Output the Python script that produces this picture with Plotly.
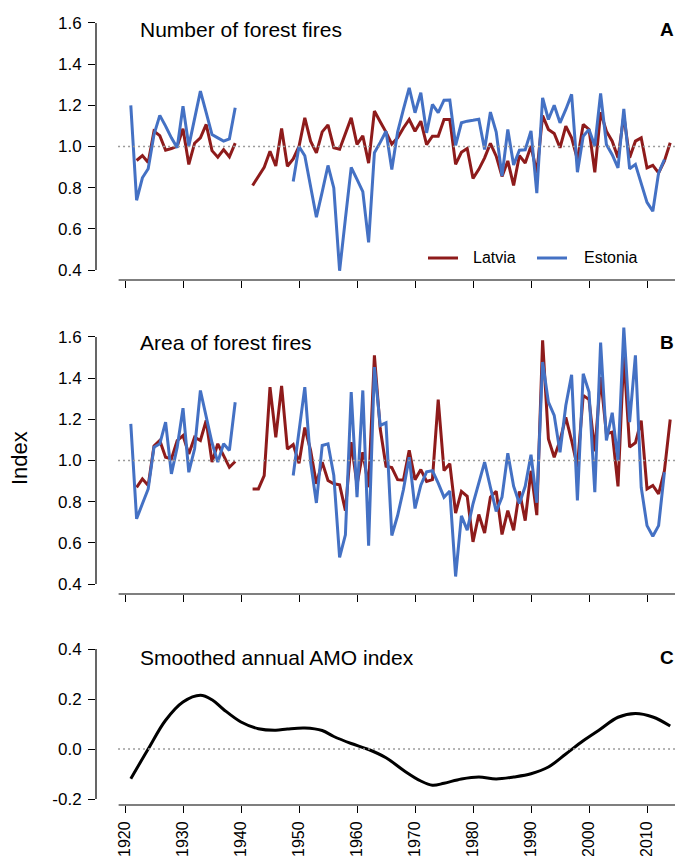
import plotly.graph_objects as go

years = list(range(1921, 2015))

# Panel A: number of forest fires (index)
fires_lv = [None,
    0.932, 0.956, 0.922, 1.074, 1.053, 0.982, 0.990, 1.002, 1.086, 0.913,
    1.016, 1.042, 1.107, 0.980, 0.948, 0.985, 0.950, 1.016,
    None, None,
    0.811, 0.856, 0.899, 0.977, 0.905, 1.087, 0.904, 0.940, 1.000, 1.139,
    1.026, 0.969, 1.071, 1.105, 0.994, 0.987, 1.060, 1.139, 1.010, 1.052,
    0.919, 1.172, 1.120, 1.070, 1.012, 1.042, 1.090, 1.131, 1.074, 1.123,
    1.009, 1.050, 1.050, 1.131, 1.131, 0.913, 0.972, 0.990, 0.845, 0.889,
    0.945, 1.015, 0.953, 0.855, 0.930, 0.811, 0.956, 0.920, 1.002, 0.872,
    1.150, 1.083, 1.063, 0.994, 1.099, 1.042, 0.937, 1.107, 1.083, 0.875,
    1.166, 1.074, 1.026, 0.945, 1.150, 0.945, 1.026, 1.042, 0.896, 0.908,
    0.872, 0.930, 1.018]

fires_ee = [
    1.200, 0.739, 0.848, 0.892, 1.058, 1.151, 1.099, 1.042, 0.994, 1.196,
    1.002, 1.131, 1.269, 1.164, 1.058, 1.042, 1.026, 1.037, 1.188,
    None, None, None, None, None, None, None, None, None,
    0.830, 1.000, 0.955, 0.810, 0.657, 0.780, 0.908, 0.799, 0.397, 0.650,
    0.898, 0.840, 0.781, 0.535, 0.970, 1.020, 1.074, 0.888, 1.070, 1.180,
    1.285, 1.164, 1.261, 1.066, 1.204, 1.164, 1.225, 1.226, 1.006, 1.115,
    1.123, 1.127, 1.132, 0.985, 1.167, 1.070, 0.856, 1.083, 0.910, 0.982,
    0.984, 1.076, 0.774, 1.236, 1.131, 1.200, 1.115, 1.180, 1.253, 0.875,
    1.050, 1.083, 1.002, 1.258, 1.010, 0.960, 0.896, 1.183, 0.892, 0.913,
    0.820, 0.729, 0.686, 0.872, 0.937,
    None]

# Panel B: area of forest fires (index)
area_lv = [None,
    0.870, 0.911, 0.879, 1.070, 1.097, 1.016, 1.008, 1.097, 1.121, 1.032,
    1.113, 1.097, 1.194, 0.992, 1.081, 1.024, 0.967, 0.995,
    None, None,
    0.862, 0.862, 0.927, 1.356, 1.113, 1.362, 1.055, 1.077, 0.987, 1.160,
    1.049, 0.887, 0.992, 0.903, 0.887, 0.882, 0.757, 1.089, 0.882, 1.040,
    0.870, 1.510, 1.154, 0.972, 0.966, 0.907, 0.905, 1.049, 0.907, 0.956,
    0.898, 0.907, 1.295, 0.951, 0.984, 0.745, 0.850, 0.826, 0.605, 0.738,
    0.648, 0.822, 0.851, 0.641, 0.757, 0.661, 0.850, 0.708, 0.950, 0.735,
    1.583, 1.105, 1.016, 1.097, 1.210, 1.097, 0.968, 1.316, 1.296, 1.044,
    1.405, 1.130, 1.138, 0.874, 1.514, 1.065, 1.086, 1.194, 0.862, 0.879,
    0.838, 0.950, 1.199]

area_ee = [
    1.178, 0.717, 0.790, 0.862, 1.065, 1.081, 1.186, 0.935, 1.065, 1.254,
    0.943, 1.057, 1.340, 1.219, 1.086, 0.992, 1.081, 1.049, 1.283,
    None, None, None, None, None, None, None, None, None,
    0.927, 1.140, 1.356, 0.992, 0.794, 1.073, 1.081, 0.927, 0.530, 0.639,
    1.332, 0.822, 1.340, 0.587, 1.453, 1.170, 1.183, 0.636, 0.733, 0.858,
    1.016, 0.767, 0.880, 0.945, 0.950, 0.890, 0.822, 0.852, 0.437, 0.731,
    0.662, 0.790, 0.890, 0.992, 0.870, 0.753, 0.822, 1.035, 0.875, 0.791,
    0.875, 1.028, 0.795, 1.478, 1.283, 1.219, 1.040, 1.267, 1.416, 0.806,
    1.421, 1.332, 0.846, 1.572, 1.097, 1.232, 1.000, 1.645, 1.186, 1.510,
    0.870, 0.684, 0.632, 0.684, 0.943,
    None]

# Panel C: smoothed annual AMO index
amo_years = [1921, 1924, 1927, 1930, 1933, 1935, 1937, 1940, 1943, 1946, 1948,
             1951, 1954, 1956, 1959, 1962, 1965, 1968, 1971, 1973, 1975, 1978,
             1981, 1984, 1987, 1990, 1993, 1996, 1999, 2002, 2005, 2008, 2011, 2014]
amo_vals = [-0.119, 0.000, 0.115, 0.188, 0.215, 0.197, 0.158, 0.108, 0.081, 0.075, 0.080,
            0.084, 0.074, 0.050, 0.022, -0.002, -0.035, -0.085, -0.128, -0.145, -0.137, -0.120,
            -0.112, -0.120, -0.112, -0.099, -0.072, -0.020, 0.033, 0.080, 0.127, 0.142, 0.128, 0.092]

series_names = ["Latvia", "Estonia"]
x_ticks = list(range(1920, 2011, 10))
y_ticks_ab = [0.4, 0.6, 0.8, 1.0, 1.2, 1.4, 1.6]
y_ticks_c = [-0.2, 0.0, 0.2, 0.4]
y_ticktext_c = ["-0.2", "0.0", "0.2", "0.4"]

RED = "#8E1B1B"
BLUE = "#4471C4"
FONT = "Liberation Sans, Arial, sans-serif"

# the page body has an 8px margin; keep the page inside the window (no scrollbars)
OFF = 8
W = 683 - OFF
H = 864.0 - 2 * OFF
L = 96 - OFF
PW = 585.0

fig = go.Figure()
fig.add_trace(go.Scatter(x=years, y=fires_lv, mode="lines", name=series_names[0],
                         line=dict(color=RED, width=3), xaxis="x", yaxis="y"))
fig.add_trace(go.Scatter(x=years, y=fires_ee, mode="lines", name=series_names[1],
                         line=dict(color=BLUE, width=3), xaxis="x", yaxis="y"))
fig.add_trace(go.Scatter(x=years, y=area_lv, mode="lines", name=series_names[0],
                         line=dict(color=RED, width=3), xaxis="x2", yaxis="y2"))
fig.add_trace(go.Scatter(x=years, y=area_ee, mode="lines", name=series_names[1],
                         line=dict(color=BLUE, width=3), xaxis="x2", yaxis="y2"))
fig.add_trace(go.Scatter(x=amo_years, y=amo_vals, mode="lines", name="AMO",
                         line=dict(color="black", width=3, shape="spline", smoothing=1.0),
                         xaxis="x3", yaxis="y3"))

xr = [1915, 2015.86]
common_x = dict(range=xr, tickvals=x_ticks, ticks="outside", ticklen=7, tickwidth=1.2,
                tickcolor="black", showgrid=False, zeroline=False, showline=False,
                automargin=False)
common_y = dict(ticks="outside", ticklen=7, tickwidth=1.2, tickcolor="black",
                showgrid=False, zeroline=False, showline=False, automargin=False,
                tickfont=dict(size=17, color="black"), ticklabelstandoff=3)

def dom(top_px, bot_px):
    return [(H - (bot_px - OFF)) / H, (H - (top_px - OFF)) / H]

def py(p):
    return (H - (p - OFF)) / H

def px_x(p):
    return (p - 96) / PW

fig.update_layout(
    width=int(W), height=int(H),
    margin=dict(l=L, r=W - L - PW, t=0, b=0),
    paper_bgcolor="white", plot_bgcolor="white",
    font=dict(family=FONT, color="black"),
    showlegend=False,
    xaxis=dict(common_x, anchor="y", showticklabels=False),
    xaxis2=dict(common_x, anchor="y2", showticklabels=False),
    xaxis3=dict(common_x, anchor="y3", showticklabels=True, tickangle=-90,
                tickfont=dict(size=16, color="black"), ticklabelstandoff=2),
    yaxis=dict(common_y, domain=dom(13, 280), range=[0.352, 1.648],
               tickvals=y_ticks_ab, tickformat=".1f", anchor="x"),
    yaxis2=dict(common_y, domain=dom(327, 594), range=[0.352, 1.648],
                tickvals=y_ticks_ab, tickformat=".1f", anchor="x2"),
    yaxis3=dict(common_y, domain=dom(643, 805), range=[-0.224, 0.424],
                tickvals=y_ticks_c, ticktext=y_ticktext_c, anchor="x3"),
)

shapes = []
for xa, ya, ref in [("x", "y", 1.0), ("x2", "y2", 1.0), ("x3", "y3", 0.0)]:
    shapes.append(dict(type="line", xref=xa, yref=ya, x0=1918.8, x1=2015.8, y0=ref, y1=ref,
                       line=dict(color="#9a9a9a", width=1.5, dash="2px,3px")))
    shapes.append(dict(type="line", xref=xa, yref=ya + " domain", x0=1918.9, x1=2015.2,
                       y0=0, y1=0, line=dict(color="black", width=1.2)))
for xa, ya, lo, hi in [("x", "y", 0.4, 1.6), ("x2", "y2", 0.4, 1.6), ("x3", "y3", -0.2, 0.4)]:
    shapes.append(dict(type="line", xref=xa + " domain", yref=ya, x0=0, x1=0, y0=lo, y1=hi,
                       line=dict(color="black", width=1.2)))

# legend (panel A, bottom right)
annos = []
for name, col, lx0, tx in [(series_names[0], RED, 428, 471), (series_names[1], BLUE, 537, 582)]:
    shapes.append(dict(type="line", xref="paper", yref="paper", x0=px_x(lx0), x1=px_x(lx0 + 30),
                       y0=py(258), y1=py(258), line=dict(color=col, width=3)))
    annos.append(dict(text=name, xref="paper", yref="paper", x=px_x(tx), y=py(258),
                      xanchor="left", yanchor="middle", showarrow=False,
                      font=dict(size=16, color="black", family=FONT)))
fig.update_layout(shapes=shapes)

for text, ypx, letter in [("Number of forest fires", 30, "A"),
                          ("Area of forest fires", 343, "B"),
                          ("Smoothed annual AMO index", 657, "C")]:
    annos.append(dict(text=text, xref="paper", yref="paper", x=px_x(138), y=py(ypx),
                      xanchor="left", yanchor="middle", showarrow=False,
                      font=dict(size=21, color="black", family=FONT)))
    annos.append(dict(text="<b>" + letter + "</b>", xref="paper", yref="paper", x=px_x(676),
                      y=py(ypx), xanchor="right", yanchor="middle", showarrow=False,
                      font=dict(size=19, color="black", family=FONT)))
annos.append(dict(text="Index", xref="paper", yref="paper", x=px_x(19), y=py(458),
                  xanchor="center", yanchor="middle", textangle=-90, showarrow=False,
                  font=dict(size=22, color="black", family=FONT)))
fig.update_layout(annotations=annos)

fig.write_html("out.html")
